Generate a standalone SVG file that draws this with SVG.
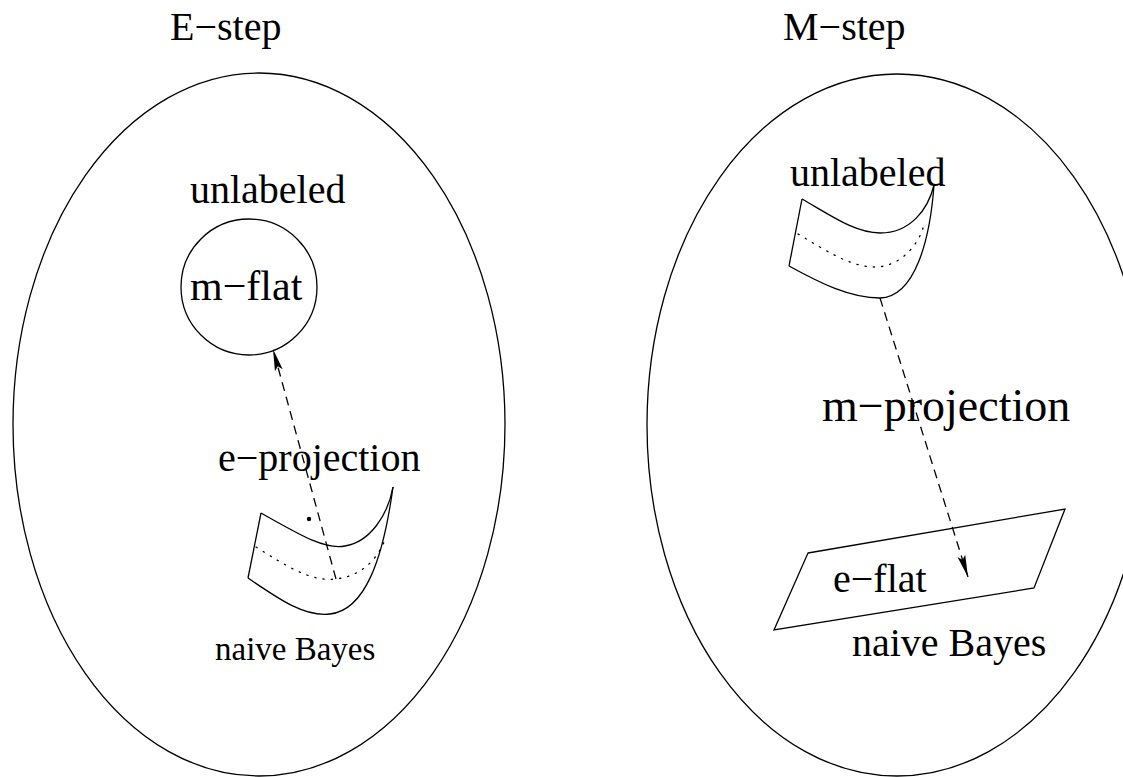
<svg xmlns="http://www.w3.org/2000/svg" width="1123" height="777" viewBox="0 0 1123 777">
<style>
.ln{fill:none;stroke:#000;stroke-width:1.3}
.dot{fill:none;stroke:#000;stroke-width:1.3;stroke-dasharray:1.3 7;stroke-linecap:round}
.dash{fill:none;stroke:#000;stroke-width:1.3;stroke-dasharray:9 6}
text{font-family:"Liberation Serif","Times New Roman",serif;font-size:40px;fill:#000}
</style>
<defs>
<marker id="ah" markerUnits="userSpaceOnUse" markerWidth="24" markerHeight="12" refX="22" refY="5" orient="auto" viewBox="0 0 24 10">
<path d="M0,1 L22,5 L0,9 L4,5 Z" fill="#000"/>
</marker>
</defs>
<rect width="1123" height="777" fill="#fff"/>
<text x="170" y="40">E−step</text>
<text x="783" y="40">M−step</text>
<g id="estep">
<ellipse class="ln" cx="259" cy="424.5" rx="246" ry="351.5"/>
</g>
<g id="mstep">
<ellipse class="ln" cx="897" cy="425" rx="250" ry="351"/>
</g>
<g id="mflat">
<circle class="ln" cx="249" cy="287" r="68"/>
<text x="190" y="300" style="font-size:42px">m−flat</text>
</g>
<g id="unlabeled-left">
<text x="190" y="203">unlabeled</text>
</g>
<g id="nb-left">
<path class="ln" d="M261,513 C300,535 325,550 345,546 C370,542 388,515 393,487"/>
<path class="ln" d="M248,578 C280,600 305,617 330,614 C365,610 383,560 393,487"/>
<path class="ln" d="M261,513 L248,578"/>
<path class="dot" d="M256,547 C285,565 310,582 335,579 C360,577 378,560 386,537"/>
<circle cx="309" cy="519" r="2.2" fill="#000"/>
<text x="215" y="660" style="font-size:33px">naive Bayes</text>
</g>
<g id="unlabeled-right">
<path class="ln" d="M802,199 C830,215 855,233 880,233 C910,233 928,210 934,185"/>
<path class="ln" d="M789,266 C820,283 850,298 880,298 C915,297 930,240 934,185"/>
<path class="ln" d="M802,199 L789,266"/>
<path class="dot" d="M798,234 C825,250 850,267 875,267 C900,267 918,245 923,228"/>
<text x="790" y="186">unlabeled</text>
</g>
<g id="eflat">
<path class="ln" d="M808,553 L1065,509 L1034,588 L774,630 Z"/>
<text x="833" y="592">e−flat</text>
<text x="852" y="656">naive Bayes</text>
</g>
<g id="connectors">
<path class="dash" d="M336,579 L273,349" marker-end="url(#ah)"/>
<path class="dash" d="M880,298 L968,577" marker-end="url(#ah)"/>
</g>
<text x="218" y="471">e−projection</text>
<text x="822" y="421" style="font-size:46px">m−projection</text>
</svg>
